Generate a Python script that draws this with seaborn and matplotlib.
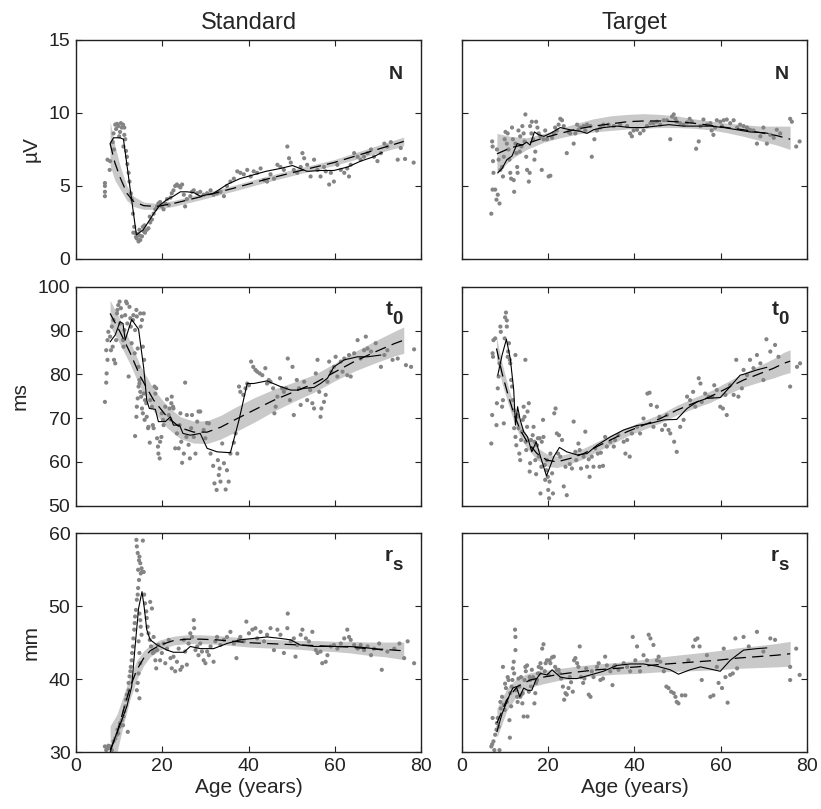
import numpy as np
import pandas as pd
import matplotlib
matplotlib.use("Agg")
import matplotlib.pyplot as plt
import seaborn as sns

# ---------------------------------------------------------------- data
# Standard / N (uV)
std_N_pts = [(6.7,5.2),(6.7,5.0),(6.7,4.6),(6.7,4.3),(7.3,6.8),(7.9,6.7),(7.8,6.1),(9.1,9.2),(9.5,9.25),
    (9.8,9.1),(10.2,8.7),(10.6,9.0),(10.9,9.2),(11.2,8.5),(11.4,8.2),(11.0,7.7),(11.6,7.4),(11.8,7.0),
    (11.9,6.5),(8.7,8.6),(8.5,8.0),(8.8,7.5),(9.3,8.9),(10.0,8.4),(10.4,9.3),(11.2,9.0),(12.2,5.9),
    (12.4,5.3),(12.7,4.5),(12.9,4.1),(13.2,3.1),(13.5,2.2),(13.3,1.8),(13.7,1.8),(14.1,1.4),(14.5,1.2),
    (14.9,1.3),(14.3,1.7),(15.3,1.55),(15.7,1.9),(16.0,1.8),(16.4,2.0),(16.8,2.1),(14.7,2.0),(15.5,2.2),
    (17.2,2.5),(17.6,2.7),(17.1,2.9),(13.9,1.5),(14.8,1.6),(15.9,2.3),(18.0,3.1),(18.4,3.4),(18.8,3.6),
    (19.1,3.8),(19.5,3.9),(19.9,3.6),(20.3,3.4),(20.7,3.8),(21.1,4.1),(21.5,3.7),(21.9,4.2),(22.2,4.5),
    (22.6,4.7),(23.0,5.0),(23.4,5.1),(23.8,5.0),(24.2,4.9),(24.6,5.1),(25.0,4.4),(25.3,3.6),(25.7,4.1),
    (26.5,4.3),(26.9,4.6),(27.3,4.7),(28.1,4.5),(28.8,4.6),(29.6,4.4),(30.4,4.5),(31.2,4.7),(31.9,4.4),
    (32.7,4.5),(33.5,4.6),(34.3,4.3),(35.0,5.0),(35.8,5.3),(36.6,5.5),(37.4,6.0),(38.1,5.9),(38.9,5.8),
    (39.7,6.1),(40.5,5.65),(41.2,6.0),(42.0,5.9),(42.8,6.2),(43.6,5.4),(44.3,5.3),(45.1,5.8),(45.9,5.5),
    (46.7,6.45),(47.4,6.3),(48.2,6.1),(49.0,7.7),(49.4,6.9),(49.8,6.6),(50.5,6.1),(51.3,5.9),(52.1,6.3),
    (52.5,7.25),(52.9,6.9),(53.6,6.45),(54.4,5.65),(55.2,6.8),(56.0,6.1),(56.7,5.65),(57.5,6.3),
    (57.9,6.0),(58.7,5.1),(59.1,5.9),(59.8,5.3),(60.6,6.45),(61.4,6.1),(62.2,5.9),(62.9,6.2),(63.3,5.65),
    (63.7,6.45),(64.5,7.25),(65.3,7.0),(66.0,6.8),(66.8,7.0),(67.6,7.25),(68.4,7.5),(69.1,7.0),
    (69.9,6.7),(70.7,7.25),(71.5,7.9),(72.2,7.7),(73.0,8.0),(74.6,6.8),(75.3,7.6),(76.3,6.85),(78.3,6.6)]
std_N_fit_age = [7.9, 9.0, 10.2, 11.8, 13.3, 15.7, 18.8, 22.6, 28.8, 36.6, 44.0, 52.0, 59.8, 67.6, 76.0]
std_N_fit = [7.9, 6.6, 5.6, 4.5, 3.95, 3.65, 3.6, 3.8, 4.25, 4.85, 5.45, 6.05, 6.6, 7.3, 8.05]
std_N_halfwidth = [1.5, 1.2, 0.8, 0.5, 0.35, 0.25, 0.2, 0.2, 0.2, 0.2, 0.2, 0.2, 0.2, 0.25, 0.3]
std_N_avg_age = [7.9, 8.7, 10.2, 11.0, 14.0, 15.6, 18.0, 19.5, 21.0, 22.6, 24.2, 25.7, 27.3, 28.8, 31.9,
    35.0, 38.0, 41.0, 44.0, 47.4, 50.2, 53.6, 56.7, 59.8, 63.0, 66.0, 69.0, 71.0]
std_N_avg = [7.9, 8.3, 8.3, 8.2, 1.65, 2.0, 3.1, 3.7, 4.05, 4.3, 4.6, 4.6, 4.55, 4.3, 4.5, 5.1, 5.5,
    5.75, 6.0, 6.2, 6.4, 6.0, 6.06, 6.06, 6.3, 6.7, 7.0, 7.3]

# Target / N (uV)
tgt_N_pts = [(6.8,3.1),(7.1,4.75),(7.3,5.9),(7.2,6.7),(7.0,8.05),(7.1,7.7),(7.7,4.75),(8.0,4.06),
    (8.3,4.4),(8.7,3.8),(8.1,7.5),(8.5,6.8),(8.9,6.1),(9.3,6.3),(9.5,5.65),(9.7,7.0),(9.9,8.2),(10.1,8.7),
    (10.4,7.9),(10.6,8.6),(10.8,7.5),(11.0,6.8),(11.2,5.9),(11.4,5.5),(11.6,9.0),(11.8,8.2),(12.0,5.4),
    (12.1,4.6),(12.4,7.9),(12.6,7.25),(12.8,6.3),(12.9,5.9),(13.1,8.8),(13.4,7.35),(13.5,8.4),(13.8,7.7),
    (14.0,9.1),(14.3,8.6),(14.5,8.05),(14.7,9.9),(14.9,7.0),(15.1,6.1),(15.5,5.3),(15.7,5.9),(15.8,9.1),
    (16.1,8.6),(16.2,9.4),(16.5,8.2),(16.8,6.8),(17.0,7.35),(17.2,9.4),(17.5,9.0),(17.8,8.6),(18.2,8.4),
    (18.5,6.1),(18.9,8.2),(19.3,8.8),(19.7,8.2),(20.1,5.65),(20.5,5.7),(20.9,8.3),(21.3,8.6),(21.6,9.0),
    (22.0,8.8),(22.4,9.2),(22.8,9.6),(23.2,9.5),(23.6,9.1),(24.3,7.25),(24.7,8.7),(25.1,8.6),(25.9,7.9),
    (26.3,8.6),(26.7,9.2),(27.0,8.85),(27.4,9.0),(28.2,9.1),(28.6,8.8),(29.0,9.2),(29.8,9.1),(30.1,7.0),
    (30.7,8.2),(31.3,8.8),(32.1,9.0),(32.8,9.2),(34.0,9.2),(35.2,9.1),(36.7,9.2),(38.3,9.1),(39.0,8.6),
    (39.4,8.4),(39.8,8.8),(40.6,8.85),(41.3,8.6),(42.1,8.8),(42.9,9.1),(43.7,9.3),(44.4,9.3),(45.2,9.4),
    (46.0,9.2),(46.8,9.5),(47.5,9.5),(48.3,8.2),(48.7,9.75),(49.1,9.9),(49.5,9.6),(49.8,9.4),(50.6,9.3),
    (51.4,9.2),(52.2,9.35),(52.8,9.6),(53.3,9.4),(54.3,7.55),(54.9,8.05),(55.3,9.1),(56.0,9.55),
    (56.8,9.2),(57.6,9.3),(57.9,8.8),(58.3,8.5),(58.7,9.0),(59.1,9.5),(59.9,9.4),(60.3,9.1),(60.7,9.5),
    (61.4,9.55),(62.2,9.3),(63.0,9.5),(63.8,9.0),(64.5,9.2),(65.3,9.1),(66.1,9.0),(66.8,8.85),(67.6,8.8),
    (68.4,7.9),(69.2,8.4),(69.9,9.0),(70.7,7.9),(71.5,8.5),(72.3,8.3),(73.0,8.85),(73.8,8.6),(76.1,9.6),
    (76.5,9.4),(77.5,7.7),(78.3,8.05)]
tgt_N_fit_age = [8.1, 11.2, 15.0, 19.0, 22.8, 26.7, 30.5, 34.4, 38.3, 42.0, 46.0, 49.8, 53.7, 57.6,
    61.4, 65.3, 69.2, 73.0, 76.1]
tgt_N_fit = [7.2, 7.6, 7.9, 8.3, 8.6, 8.9, 9.1, 9.25, 9.4, 9.45, 9.45, 9.4, 9.3, 9.15, 9.0, 8.85,
    8.65, 8.45, 8.2]
tgt_N_band_lo = [5.8, 6.8, 7.5, 8.0, 8.3, 8.55, 8.7, 8.8, 8.9, 8.95, 9.0, 9.0, 8.95, 8.85, 8.65, 8.4,
    8.1, 7.8, 7.5]
tgt_N_band_hi = [8.6, 8.4, 8.3, 8.6, 8.95, 9.3, 9.6, 9.8, 9.9, 9.95, 9.9, 9.8, 9.6, 9.45, 9.3, 9.2,
    9.1, 9.1, 9.1]
tgt_N_avg_age = [8.3, 9.3, 10.4, 11.6, 12.8, 14.0, 15.0, 15.8, 16.8, 17.8, 19.0, 20.5, 22.8, 25.0,
    27.4, 29.0, 30.5, 32.8, 36.0, 39.0, 42.0, 45.0, 48.0, 51.4, 54.5, 57.6, 60.7, 63.8, 66.8, 70.0, 71.0]
tgt_N_avg = [5.9, 6.2, 6.8, 7.05, 7.9, 7.8, 8.0, 7.8, 8.7, 8.5, 8.4, 8.6, 9.0, 8.85, 8.75, 8.6, 8.85,
    9.0, 9.1, 9.0, 9.0, 9.1, 9.2, 9.1, 9.1, 9.1, 9.0, 8.85, 8.7, 8.65, 8.6]

# Standard / t0 (ms)
std_t0_pts = [(6.7,73.7),(7.0,78.1),(7.1,80.2),(7.3,83.3),(7.0,85.5),(7.3,87.8),(7.5,89.7),(7.9,88.6),
    (8.1,85.5),(8.3,90.9),(8.5,86.3),(8.7,92.4),(8.8,83.3),(9.1,82.5),(9.3,87.8),(9.5,93.9),(9.6,94.7),
    (9.8,95.8),(10.1,96.6),(10.2,91.6),(10.4,95.1),(10.6,93.2),(10.9,87.8),(11.0,86.3),(11.2,90.1),
    (11.4,93.5),(11.6,96.6),(11.8,96.2),(11.9,91.6),(12.2,79.5),(12.4,95.4),(12.6,92.8),(12.7,90.9),
    (12.9,87.1),(13.2,92.4),(13.3,93.5),(13.6,84.8),(13.7,90.1),(14.0,94.7),(14.1,93.2),(14.3,85.9),
    (14.5,81.7),(14.7,78.7),(14.9,93.9),(15.0,90.9),(15.3,92.4),(15.5,86.3),(15.7,93.9),(15.8,83.3),
    (13.7,65.9),(14.0,70.3),(14.1,72.6),(14.3,74.5),(14.5,77.2),(14.7,77.9),(14.9,76.0),(15.1,74.9),
    (15.3,72.2),(15.5,71.1),(15.7,75.6),(15.9,69.6),(16.0,74.1),(16.3,73.4),(16.4,70.3),(16.7,67.7),
    (16.8,68.0),(17.1,64.4),(17.2,74.1),(17.6,72.6),(17.8,68.4),(18.0,67.7),(18.2,77.2),(18.4,75.6),
    (18.6,76.8),(18.8,65.4),(19.0,63.5),(19.1,61.9),(19.4,60.8),(19.5,64.6),(19.8,65.7),(19.9,71.1),
    (20.2,69.6),(20.3,68.4),(20.7,72.6),(21.1,74.3),(21.5,70.7),(21.7,72.2),(21.9,69.7),(22.1,73.4),
    (22.2,74.9),(22.5,72.6),(22.6,72.2),(23.0,63.1),(23.4,66.5),(23.8,63.1),(24.0,68.4),(24.2,71.1),
    (24.4,64.6),(24.6,59.8),(25.0,61.9),(25.3,78.1),(25.6,65.7),(25.7,70.7),(26.1,63.9),(26.4,60.8),
    (26.7,67.7),(26.9,70.7),(27.3,65.7),(27.7,61.9),(28.1,69.2),(28.4,71.5),(28.8,71.5),(29.6,67.3),
    (30.0,65.4),(30.4,68.9),(30.8,68.8),(31.2,61.9),(31.8,59.1),(32.1,55.1),(32.6,53.6),(32.9,60.4),
    (33.1,57.0),(33.3,58.5),(33.5,55.5),(33.9,64.2),(34.3,59.7),(34.7,53.7),(35.0,58.1),(35.4,55.5),
    (35.8,61.9),(36.6,64.4),(37.0,66.5),(37.4,61.9),(37.8,77.2),(38.1,76.0),(38.8,75.3),(39.3,76.8),
    (39.7,77.9),(40.1,77.5),(40.6,82.9),(41.1,81.7),(41.6,81.0),(42.0,80.6),(42.6,80.2),(43.2,79.8),
    (43.9,81.4),(44.3,77.9),(44.7,78.7),(45.1,78.3),(45.7,76.8),(46.0,71.1),(46.3,72.6),(46.7,74.9),
    (47.3,79.1),(47.8,76.8),(48.2,76.0),(48.7,76.8),(49.1,83.6),(49.6,74.1),(50.2,81.7),(50.5,70.7),
    (51.2,78.7),(51.7,76.8),(52.1,73.0),(52.9,78.3),(53.6,74.1),(54.3,76.4),(54.8,73.4),(55.2,72.2),
    (55.6,80.2),(56.0,83.3),(56.4,76.0),(56.7,70.3),(56.9,72.2),(57.5,73.7),(57.9,75.3),(58.3,78.3),
    (58.7,82.9),(59.2,80.6),(59.8,81.7),(60.2,84.0),(60.6,79.5),(61.4,82.9),(61.8,80.6),(62.2,83.6),
    (62.9,79.8),(63.3,84.4),(63.7,79.5),(64.5,84.8),(65.3,87.8),(66.0,83.6),(66.8,85.5),(67.2,88.6),
    (67.6,85.9),(68.4,85.2),(69.5,87.1),(70.7,81.7),(71.5,84.4),(72.2,85.5),(73.4,83.3),(74.6,83.6),
    (76.5,82.1),(77.7,81.7),(78.4,85.7)]
std_t0_fit_age = [7.9, 10.2, 12.6, 14.9, 18.0, 21.1, 24.2, 27.3, 30.4, 33.5, 36.6, 41.2, 45.9, 50.5,
    55.2, 59.8, 64.5, 69.1, 73.8, 76.0]
std_t0_fit = [93.9, 89.7, 84.8, 79.5, 74.1, 70.3, 67.8, 66.8, 66.8, 67.9, 69.5, 71.8, 74.1, 76.0,
    77.9, 80.4, 82.9, 85.0, 87.0, 87.8]
std_t0_halfwidth = [3.0, 2.8, 2.6, 2.5, 2.5, 2.5, 2.5, 2.5, 2.6, 2.7, 2.8, 2.8, 2.5, 2.2, 2.0, 2.0,
    2.2, 2.5, 2.8, 3.0]
std_t0_avg_age = [7.9, 9.1, 10.2, 10.9, 11.4, 12.9, 14.5, 15.7, 16.4, 17.0, 18.4, 19.1, 20.7, 21.9,
    22.6, 24.0, 24.8, 26.5, 28.8, 30.4, 32.7, 35.8, 37.8, 39.7, 41.2, 44.3, 47.4, 49.8, 51.3, 52.9,
    55.2, 56.7, 58.3, 59.8, 62.2, 65.3, 67.6, 70.7]
std_t0_avg = [87.4, 89.0, 92.0, 91.6, 87.8, 92.5, 90.3, 81.4, 74.1, 72.2, 72.0, 69.2, 69.2, 70.3,
    68.4, 68.4, 66.5, 66.1, 66.5, 63.1, 62.3, 62.1, 69.6, 77.9, 77.9, 78.5, 77.2, 76.4, 76.4, 76.8,
    77.0, 77.9, 79.1, 81.7, 83.3, 84.0, 84.0, 84.4]

# Target / t0 (ms)
tgt_t0_pts = [(6.8,64.2),(7.0,70.7),(7.1,84.8),(7.2,84.0),(7.3,87.8),(7.7,88.2),(8.0,68.4),(8.1,73.4),
    (8.3,76.8),(8.5,79.5),(8.7,82.5),(8.9,90.9),(9.0,89.7),(9.3,72.6),(9.5,74.1),(9.7,68.8),(9.9,88.2),
    (10.0,93.0),(10.2,94.1),(10.4,92.3),(10.4,90.9),(10.6,84.0),(10.7,85.2),(10.9,87.1),(11.1,83.3),
    (11.2,82.5),(11.4,78.7),(11.6,77.2),(11.8,74.1),(12.0,71.8),(12.1,67.7),(12.4,65.7),(12.4,84.4),
    (12.6,63.8),(12.8,70.7),(12.9,70.3),(13.1,67.7),(13.3,61.9),(13.5,60.4),(13.7,65.0),(13.9,66.9),
    (14.1,69.6),(14.3,72.6),(14.5,70.3),(14.7,83.3),(14.8,64.6),(14.9,62.7),(15.1,68.0),(15.2,71.5),
    (15.5,73.4),(15.7,57.8),(15.8,59.7),(16.0,65.0),(16.2,63.1),(16.4,66.1),(16.6,68.0),(16.8,64.6),
    (17.0,60.4),(17.2,57.2),(17.4,63.8),(17.6,65.4),(17.8,61.2),(18.0,65.4),(18.2,52.8),(18.4,58.9),
    (18.5,64.6),(18.8,69.6),(18.9,65.7),(19.2,59.3),(19.3,55.9),(19.6,58.1),(19.7,60.4),(19.9,56.6),
    (20.0,53.6),(20.2,51.7),(20.3,55.5),(20.5,61.9),(20.9,57.4),(21.1,52.8),(21.4,71.1),(21.7,72.2),
    (22.0,66.5),(22.3,61.9),(22.5,66.1),(22.8,61.2),(23.2,65.0),(23.6,54.4),(24.0,58.9),(24.3,52.4),
    (25.0,59.5),(25.5,58.5),(25.9,69.2),(26.3,62.3),(26.5,60.4),(27.0,64.2),(27.3,62.7),(27.6,58.5),
    (28.2,61.2),(28.6,66.9),(29.0,58.9),(29.4,60.6),(29.6,56.6),(30.1,61.2),(30.5,58.9),(30.9,63.1),
    (31.5,61.9),(31.9,58.9),(32.2,62.1),(32.7,59.1),(33.2,65.7),(33.6,63.5),(34.4,64.6),(35.2,63.5),
    (35.5,65.0),(36.3,66.1),(37.5,64.6),(37.9,61.9),(38.3,65.0),(38.9,61.2),(39.4,66.5),(40.6,68.0),
    (41.3,66.5),(42.1,69.9),(43.0,75.6),(43.5,75.8),(43.8,73.0),(44.4,68.0),(45.2,72.6),(45.8,70.3),
    (46.4,67.3),(47.1,68.4),(47.5,70.7),(47.9,67.3),(48.3,66.5),(49.2,64.6),(49.8,62.3),(50.6,68.0),
    (51.4,69.6),(52.2,74.9),(52.9,74.1),(53.6,76.0),(54.1,72.6),(54.9,79.1),(55.3,77.9),(55.6,73.7),
    (56.4,75.6),(57.2,74.9),(58.0,74.9),(58.5,77.5),(59.1,76.4),(59.9,72.6),(60.5,72.2),(61.1,75.3),
    (61.4,70.7),(62.2,77.5),(63.0,75.3),(63.6,83.3),(64.1,74.9),(64.9,76.8),(65.3,81.0),(66.1,79.8),
    (66.8,83.3),(67.6,81.4),(68.4,84.4),(69.2,82.5),(69.9,78.7),(70.6,88.0),(71.5,85.2),(72.6,86.7),
    (73.4,84.0),(76.1,77.2),(77.7,81.7),(78.4,82.5)]
tgt_t0_fit_age = [8.0, 9.3, 10.6, 12.0, 13.5, 15.1, 17.4, 19.7, 22.0, 25.1, 28.2, 31.3, 34.4, 38.3,
    42.1, 46.0, 49.8, 53.7, 57.6, 61.4, 65.3, 69.2, 72.3, 74.6, 76.1]
tgt_t0_fit = [85.9, 80.2, 75.6, 71.1, 67.3, 64.6, 61.9, 60.4, 60.0, 60.8, 61.9, 63.5, 65.0, 66.9,
    68.4, 69.9, 71.8, 73.4, 74.9, 76.8, 78.7, 80.2, 81.4, 82.5, 83.0]
tgt_t0_halfwidth = [2.5, 2.3, 2.0, 1.8, 1.6, 1.5, 1.4, 1.4, 1.3, 1.2, 1.2, 1.1, 1.1, 1.0, 1.0, 1.0,
    1.1, 1.2, 1.3, 1.4, 1.6, 1.9, 2.2, 2.5, 2.6]
tgt_t0_avg_age = [8.3, 9.3, 10.3, 11.2, 12.0, 12.4, 12.9, 13.5, 14.3, 15.2, 16.2, 17.2, 18.2, 19.6,
    21.3, 22.6, 24.3, 26.7, 29.0, 31.3, 34.4, 37.5, 40.6, 43.7, 46.8, 49.8, 52.2, 54.5, 56.8, 59.9,
    62.2, 64.5, 65.3, 68.4, 70.7]
tgt_t0_avg = [79.8, 84.4, 88.0, 83.6, 76.4, 68.4, 72.6, 69.6, 66.9, 65.7, 62.3, 64.6, 61.2, 56.8,
    61.2, 63.3, 62.3, 61.6, 61.9, 63.8, 65.7, 67.3, 68.3, 68.8, 69.6, 69.7, 72.2, 73.7, 74.5, 74.7,
    77.2, 79.8, 80.0, 81.0, 81.6]

# Standard / rs (mm)
std_rs_pts = [(6.7,30.8),(7.0,30.3),(7.3,30.5),(7.5,30.9),(7.9,30.8),(8.3,30.3),(8.7,31.5),(9.1,31.9),
    (9.5,32.4),(9.6,33.1),(9.8,32.6),(10.1,33.5),(10.2,34.0),(10.6,34.4),(10.9,33.7),(11.0,34.9),
    (11.2,35.6),(11.4,36.3),(11.6,37.2),(11.8,37.9),(12.0,32.8),(12.2,38.5),(12.2,39.5),(12.4,40.4),
    (12.6,41.1),(12.7,41.7),(12.9,42.6),(13.0,43.6),(13.2,44.5),(13.3,45.6),(13.5,46.8),(13.6,47.7),
    (13.7,48.6),(13.9,49.5),(14.1,50.9),(14.3,51.6),(14.4,52.5),(14.6,53.6),(14.0,59.1),(14.1,58.2),
    (14.3,57.3),(14.4,55.0),(14.6,56.3),(14.7,56.8),(14.9,55.9),(15.0,54.5),(15.2,55.2),(15.3,54.7),
    (15.5,59.0),(15.7,54.7),(15.8,51.6),(14.7,49.0),(14.9,48.1),(15.0,47.2),(15.2,46.1),(14.5,45.2),
    (14.7,43.6),(14.9,42.2),(14.5,40.8),(14.3,39.5),(14.7,37.4),(14.1,38.5),(16.0,50.4),(16.3,49.3),
    (16.4,48.4),(16.6,47.2),(16.8,46.3),(17.1,45.4),(17.2,50.6),(17.4,44.5),(17.6,49.7),(17.8,43.6),
    (18.0,45.8),(18.1,43.8),(18.4,42.6),(18.6,41.5),(18.8,44.0),(19.1,44.7),(19.5,42.6),(19.9,43.6),
    (20.3,44.9),(20.7,42.2),(21.1,44.2),(21.5,45.4),(21.9,42.9),(22.2,41.5),(22.6,43.1),(23.0,41.1),
    (23.4,42.4),(23.8,44.2),(24.2,41.3),(24.6,41.7),(25.0,45.4),(25.3,43.8),(25.7,42.0),(26.1,44.9),
    (26.5,46.3),(26.9,45.8),(27.3,48.1),(27.4,47.0),(27.7,44.0),(28.1,44.5),(28.4,43.3),(28.8,44.9),
    (29.2,43.8),(29.6,42.6),(30.0,42.2),(30.4,43.8),(30.8,43.3),(31.2,44.5),(31.9,42.4),(32.3,45.2),
    (32.7,45.8),(33.5,44.7),(34.3,45.4),(35.0,45.8),(35.8,46.5),(36.6,44.9),(37.2,42.9),(37.8,45.4),
    (38.1,45.8),(38.9,45.2),(39.5,47.9),(40.1,46.3),(40.9,46.8),(41.6,47.0),(42.0,45.6),(42.8,46.5),
    (43.6,45.2),(44.3,46.1),(45.1,47.0),(45.9,44.0),(46.7,46.8),(47.4,46.1),(48.2,43.6),(49.0,47.0),
    (49.1,49.0),(49.8,45.2),(50.5,45.6),(50.9,43.1),(51.3,44.7),(52.1,46.1),(52.5,46.8),(53.3,45.6),
    (54.0,45.2),(54.8,46.5),(55.6,44.0),(56.0,43.6),(56.7,43.8),(57.1,42.2),(57.9,42.4),(58.3,43.3),
    (59.1,44.5),(59.8,44.7),(60.6,44.2),(61.4,44.9),(62.2,45.6),(62.9,46.8),(63.3,45.8),(63.7,45.4),
    (64.5,44.7),(65.3,44.2),(66.0,44.7),(66.8,44.0),(67.6,44.5),(68.4,43.3),(69.1,44.2),(70.3,44.9),
    (70.9,41.3),(72.2,43.8),(73.8,44.2),(75.0,44.9),(76.1,42.9),(76.9,45.2),(78.4,42.2)]
std_rs_fit_age = [7.9, 9.5, 11.0, 12.6, 14.1, 15.7, 17.2, 19.5, 22.6, 25.7, 28.8, 32.7, 36.6, 40.5,
    44.3, 48.2, 52.0, 56.0, 59.8, 63.7, 67.6, 71.5, 76.0]
std_rs_fit = [30.3, 32.6, 35.8, 39.0, 41.3, 42.9, 43.9, 44.7, 45.3, 45.5, 45.5, 45.4, 45.2, 45.0,
    44.9, 44.8, 44.7, 44.6, 44.5, 44.4, 44.2, 44.1, 43.9]
std_rs_halfwidth = [3.3, 2.6, 2.0, 1.6, 1.3, 1.0, 0.8, 0.7, 0.6, 0.6, 0.6, 0.6, 0.6, 0.6, 0.6, 0.6,
    0.6, 0.7, 0.7, 0.8, 0.9, 1.0, 1.2]
std_rs_avg_age = [7.9, 9.1, 10.6, 11.8, 12.9, 13.7, 14.5, 15.3, 15.8, 16.4, 17.2, 18.8, 21.1, 22.6,
    25.0, 26.5, 28.8, 31.9, 35.0, 38.0, 41.2, 44.3, 47.4, 49.8, 52.0, 55.2, 58.3, 63.0, 66.0, 69.0, 71.0]
std_rs_avg = [30.0, 32.1, 34.4, 36.3, 39.0, 44.5, 49.7, 52.0, 49.9, 46.8, 45.4, 44.7, 44.0, 43.7,
    43.7, 44.5, 44.2, 44.2, 44.9, 45.4, 45.6, 45.8, 45.6, 45.4, 44.7, 44.5, 44.5, 44.5, 44.4, 44.2, 44.0]

# Target / rs (mm)
tgt_rs_pts = [(6.8,30.8),(7.0,31.1),(7.1,34.7),(7.3,31.5),(7.5,30.3),(7.7,32.4),(8.0,33.1),(8.1,34.0),
    (8.3,34.7),(8.5,33.5),(8.7,30.3),(8.9,36.9),(9.0,36.0),(9.3,37.6),(9.5,41.7),(9.7,36.5),(9.9,35.8),
    (10.0,39.4),(10.2,38.8),(10.4,36.9),(10.6,40.3),(10.8,39.9),(11.0,34.4),(11.1,32.0),(11.2,38.1),
    (11.4,36.3),(11.5,39.0),(11.7,39.9),(11.8,41.5),(12.0,42.4),(12.1,40.8),(12.3,46.8),(12.4,44.0),
    (12.4,45.8),(12.6,38.5),(12.8,37.6),(12.9,36.9),(13.1,40.1),(13.3,39.0),(13.5,37.6),(13.7,40.3),
    (13.8,37.9),(14.0,36.7),(14.1,38.1),(14.3,34.9),(14.5,39.9),(14.7,41.7),(14.8,41.1),(15.1,41.9),
    (15.2,34.9),(15.5,38.3),(15.7,40.3),(15.8,39.9),(16.0,39.0),(16.2,41.3),(16.5,40.3),(16.6,40.1),
    (16.8,36.7),(17.0,38.1),(17.2,39.5),(17.4,39.9),(17.6,40.8),(17.8,41.7),(18.0,40.8),(18.2,42.2),
    (18.4,41.5),(18.6,44.2),(18.9,44.8),(19.2,41.1),(19.4,42.2),(19.7,42.6),(20.1,40.6),(20.3,42.6),
    (20.5,42.2),(20.9,43.0),(21.3,43.1),(21.6,41.7),(22.0,41.3),(22.4,41.3),(22.6,40.8),(23.0,40.1),
    (23.4,39.0),(23.7,37.2),(24.0,38.1),(24.3,37.9),(24.7,38.8),(25.0,40.3),(25.3,39.6),(25.7,38.3),
    (26.0,42.6),(26.3,42.9),(26.7,42.2),(27.0,41.7),(27.3,44.5),(27.6,40.3),(28.1,39.5),(28.4,40.1),
    (28.8,41.5),(29.4,37.9),(29.8,37.6),(30.1,41.1),(30.5,40.3),(31.3,41.7),(31.7,42.2),(32.1,39.9),
    (32.7,40.1),(33.2,43.1),(33.6,41.9),(34.4,41.1),(34.9,39.2),(35.2,41.7),(35.5,41.9),(36.3,41.3),
    (37.5,42.2),(38.3,41.7),(39.0,41.1),(39.6,45.8),(40.2,42.6),(40.6,44.5),(41.3,41.1),(42.1,43.3),
    (42.9,42.6),(43.3,46.1),(43.7,45.6),(44.4,44.7),(45.2,42.6),(45.6,43.1),(46.0,42.4),(46.8,41.1),
    (47.4,39.0),(47.9,38.8),(48.5,38.3),(49.1,38.1),(49.5,37.6),(49.8,36.9),(50.2,36.7),(51.0,37.8),
    (51.8,37.8),(52.5,42.6),(53.6,44.5),(54.1,45.4),(54.6,45.6),(55.1,44.5),(55.6,39.9),(56.8,43.3),
    (57.6,37.6),(58.3,37.8),(59.1,41.7),(59.5,39.5),(60.3,38.8),(60.7,44.2),(61.1,40.3),(61.6,36.8),
    (62.2,40.6),(62.8,40.8),(63.4,45.6),(63.8,41.5),(65.3,45.8),(66.5,44.5),(68.4,46.5),(69.9,43.8),
    (71.5,45.6),(72.6,45.4),(76.1,41.7),(76.1,39.9),(77.5,44.2),(78.3,40.6)]
tgt_rs_fit_age = [8.1, 10.4, 12.8, 15.8, 18.9, 22.8, 26.7, 31.3, 35.9, 40.6, 45.2, 49.8, 54.5, 59.1,
    63.8, 68.4, 73.0, 76.1]
tgt_rs_fit = [34.0, 37.2, 39.0, 39.9, 40.3, 40.7, 41.0, 41.3, 41.5, 41.7, 42.0, 42.2, 42.4, 42.6,
    42.9, 43.1, 43.3, 43.5]
tgt_rs_halfwidth = [2.0, 1.5, 1.2, 1.0, 0.9, 0.8, 0.8, 0.8, 0.8, 0.9, 1.0, 1.1, 1.2, 1.3, 1.4, 1.5,
    1.6, 1.7]
tgt_rs_avg_age = [8.1, 9.3, 10.4, 11.2, 11.8, 12.6, 13.4, 14.3, 15.2, 16.2, 17.2, 18.2, 19.7, 20.9,
    22.8, 24.7, 26.7, 29.8, 32.8, 35.9, 39.0, 42.1, 45.2, 48.3, 50.2, 52.9, 55.3, 57.6, 59.9, 62.2,
    65.3, 68.4, 70.7]
tgt_rs_avg = [32.8, 35.3, 36.9, 38.1, 38.8, 39.0, 37.6, 38.8, 38.5, 38.5, 40.0, 40.8, 40.6, 41.3,
    40.3, 40.1, 40.1, 40.6, 41.1, 41.9, 42.1, 42.1, 41.8, 41.3, 40.7, 41.3, 41.7, 41.4, 41.1, 42.6,
    44.0, 44.2, 44.3]

column_titles = ["Standard", "Target"]
row_units = ["\u00b5V", "ms", "mm"]
# panel tags: main letter and its subscript
row_tags = [("N", ""), ("t", "0"), ("r", "s")]
row_limits = [(0, 15), (50, 100), (30, 60)]
row_ticks = [[0, 5, 10, 15], [50, 60, 70, 80, 90, 100], [30, 40, 50, 60]]
age_ticks = [0, 20, 40, 60, 80]


def band(fit, half):
    f = np.asarray(fit)
    h = np.asarray(half)
    return f - h, f + h


panels = [
    [dict(pts=std_N_pts, fa=std_N_fit_age, f=std_N_fit, band=band(std_N_fit, std_N_halfwidth),
          aa=std_N_avg_age, a=std_N_avg),
     dict(pts=tgt_N_pts, fa=tgt_N_fit_age, f=tgt_N_fit, band=(tgt_N_band_lo, tgt_N_band_hi),
          aa=tgt_N_avg_age, a=tgt_N_avg)],
    [dict(pts=std_t0_pts, fa=std_t0_fit_age, f=std_t0_fit, band=band(std_t0_fit, std_t0_halfwidth),
          aa=std_t0_avg_age, a=std_t0_avg),
     dict(pts=tgt_t0_pts, fa=tgt_t0_fit_age, f=tgt_t0_fit, band=band(tgt_t0_fit, tgt_t0_halfwidth),
          aa=tgt_t0_avg_age, a=tgt_t0_avg)],
    [dict(pts=std_rs_pts, fa=std_rs_fit_age, f=std_rs_fit, band=band(std_rs_fit, std_rs_halfwidth),
          aa=std_rs_avg_age, a=std_rs_avg),
     dict(pts=tgt_rs_pts, fa=tgt_rs_fit_age, f=tgt_rs_fit, band=band(tgt_rs_fit, tgt_rs_halfwidth),
          aa=tgt_rs_avg_age, a=tgt_rs_avg)],
]

# ---------------------------------------------------------------- style
sns.set_theme(style="ticks")
plt.rcParams.update({
    "font.family": ["Liberation Sans", "DejaVu Sans"],
    "xtick.direction": "in",
    "ytick.direction": "in",
    "xtick.top": True,
    "ytick.right": True,
    "xtick.major.size": 4,
    "ytick.major.size": 4,
    "xtick.major.width": 0.8,
    "ytick.major.width": 0.8,
    "xtick.color": "#222222",
    "ytick.color": "#222222",
    "axes.edgecolor": "#222222",
    "axes.linewidth": 1.0,
})

DOT = "#848484"
BAND = "#c9c9c9"

fig = plt.figure(figsize=(8.21, 8.09), dpi=100)
lefts = [0.0926, 0.5627]
bottoms = [0.6799, 0.3749, 0.0701]
W, H = 0.4202, 0.2707

for r in range(3):
    for c in range(2):
        p = panels[r][c]
        ax = fig.add_axes([lefts[c], bottoms[r], W, H])
        lo, hi = p["band"]
        ax.fill_between(p["fa"], lo, hi, color=BAND, lw=0, zorder=1)
        pts = pd.DataFrame(p["pts"], columns=["age", "value"])
        sns.scatterplot(data=pts, x="age", y="value", ax=ax, s=9, color=DOT,
                        edgecolor="none", linewidth=0, zorder=2, legend=False)
        sns.lineplot(x=p["fa"], y=p["f"], ax=ax, color="black", linewidth=0.9,
                     linestyle=(0, (9, 5)), estimator=None, sort=False, zorder=3)
        sns.lineplot(x=p["aa"], y=p["a"], ax=ax, color="black", linewidth=0.8,
                     estimator=None, sort=False, zorder=4)

        ax.set_xlim(0, 80)
        ax.set_ylim(*row_limits[r])
        ax.set_xticks(age_ticks)
        ax.set_yticks(row_ticks[r])
        ax.tick_params(labelsize=14, pad=4)
        for s in ax.spines.values():
            s.set_visible(True)
        ax.set_xlabel("")
        ax.set_ylabel("")
        if c == 0:
            ax.set_ylabel(row_units[r], fontsize=15, labelpad=6)
        else:
            ax.set_yticklabels([])
        if r == 2:
            ax.set_xlabel("Age (years)", fontsize=15, labelpad=2)
        else:
            ax.set_xticklabels([])
        if r == 0:
            ax.set_title(column_titles[c], fontsize=17, pad=8)

        main, sub = row_tags[r]
        if sub:
            ax.text(0.948, 0.832, sub, transform=ax.transAxes, ha="right", va="baseline",
                    fontsize=13.5, fontweight="bold", zorder=5)
            ax.text(0.918, 0.872, main, transform=ax.transAxes, ha="right", va="baseline",
                    fontsize=15, fontweight="bold", zorder=5)
        else:
            ax.text(0.948, 0.822, main, transform=ax.transAxes, ha="right", va="baseline",
                    fontsize=14, fontweight="bold", zorder=5)

fig.savefig("out.png", dpi=100)
